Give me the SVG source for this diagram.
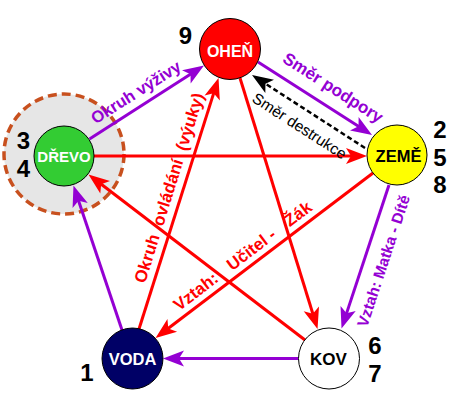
<svg xmlns="http://www.w3.org/2000/svg" width="461" height="408" viewBox="0 0 461 408">
<style>
.node{stroke:#000;stroke-width:1}
.nl{font-family:"Liberation Sans",Arial,sans-serif;font-weight:bold;text-anchor:middle}
.num{font-family:"Liberation Sans",Arial,sans-serif;font-weight:bold;font-size:24px;text-anchor:middle;fill:#000}
.lab{font-family:"Liberation Sans",Arial,sans-serif;font-weight:bold}
.red{stroke:#FF0000;stroke-width:3;fill:none;marker-end:url(#ar)}
.pur{stroke:#9400D3;stroke-width:3;fill:none;marker-end:url(#ap)}
.blk{stroke:#000;stroke-width:2.5;fill:none;stroke-dasharray:5,3;marker-end:url(#ab)}
</style>
<defs>
<marker id="ar" markerUnits="userSpaceOnUse" orient="auto" markerWidth="40" markerHeight="40" refX="0" refY="0" viewBox="-20 -20 40 40" overflow="visible"><path d="M12,0 L-9,-8 L-4,0 L-9,8 Z" fill="#FF0000"/></marker>
<marker id="ap" markerUnits="userSpaceOnUse" orient="auto" markerWidth="40" markerHeight="40" refX="0" refY="0" viewBox="-20 -20 40 40" overflow="visible"><path d="M12,0 L-9,-8 L-4,0 L-9,8 Z" fill="#9400D3"/></marker>
<marker id="ab" markerUnits="userSpaceOnUse" orient="auto" markerWidth="40" markerHeight="40" refX="0" refY="0" viewBox="-20 -20 40 40" overflow="visible"><path d="M12,0 L-9,-8 L-4,0 L-9,8 Z" fill="#000"/></marker>
</defs>
<rect width="461" height="408" fill="#fff"/>
<circle id="drevo-halo" cx="64" cy="154" r="60" fill="#E6E6E6" stroke="#C8501E" stroke-width="3.5" stroke-dasharray="9,5"/>
<g id="connectors">
<path class="pur" d="M89.5,139 L193.9,72"/>
<path class="pur" d="M258,62 L361.9,128.5"/>
<path class="blk" d="M365,148 L262.1,81.5"/>
<path class="pur" d="M389,185 L345.3,317.1"/>
<path class="pur" d="M298.5,358.5 L175,358.5"/>
<path class="pur" d="M122,330 L77.3,196.9"/>
<path class="red" d="M94,156 L355,156"/>
<path class="red" d="M373,173 L165.1,330.8"/>
<path class="red" d="M139,329 L214.9,89.4"/>
<path class="red" d="M240,78 L314,317.5"/>
<path class="red" d="M305,340 L98,181.8"/>
</g>
<g id="ohen"><circle class="node" cx="230" cy="49" r="30.5" fill="#FF0000"/><text class="nl" x="230" y="57" font-size="16" fill="#fff">OHEŇ</text><text class="num" x="185.5" y="44">9</text></g>
<g id="drevo"><circle class="node" cx="64" cy="156" r="30" fill="#33CC33"/><text class="nl" x="64" y="161.5" font-size="15" fill="#fff">DŘEVO</text><text class="num" x="23.5" y="149">3</text><text class="num" x="23.5" y="177">4</text></g>
<g id="zeme"><circle class="node" cx="397" cy="155" r="30" fill="#FFFF00"/><text class="nl" x="398.5" y="161.5" font-size="16.5" fill="#000">ZEMĚ</text><text class="num" x="440" y="138">2</text><text class="num" x="440" y="166">5</text><text class="num" x="440" y="193">8</text></g>
<g id="voda"><circle class="node" cx="132.5" cy="358.5" r="30.5" fill="#000066"/><text class="nl" x="132.5" y="365" font-size="16.5" fill="#fff">VODA</text><text class="num" x="87" y="381">1</text></g>
<g id="kov"><circle class="node" cx="329" cy="358.5" r="30.5" fill="#FFFFFF"/><text class="nl" x="328.5" y="365" font-size="17" fill="#000">KOV</text><text class="num" x="375" y="354">6</text><text class="num" x="375" y="382">7</text></g>
<g id="labels">
<text class="lab" font-size="16.5" fill="#9400D3" transform="translate(95.5,124.5) rotate(-32.3)">Okruh výživy</text>
<text class="lab" font-size="17" fill="#9400D3" transform="translate(281.5,61.5) rotate(32.6)">Směr podpory</text>
<text font-family="Liberation Sans,Arial,sans-serif" font-size="15.5" fill="#000" transform="translate(251,101) rotate(32.9)">Směr destrukce</text>
<text class="lab" font-size="15.5" fill="#9400D3" transform="translate(367,328) rotate(-71.7)">Vztah: Matka - Dítě</text>
<text class="lab" font-size="17" fill="#FF0000" transform="translate(145,284) rotate(-72.6)">Okruh <tspan dx="5">ovládání</tspan> <tspan dx="5">(výuky)</tspan></text>
<text class="lab" font-size="17" fill="#FF0000" transform="translate(179,311.5) rotate(-37.2)">Vztah: <tspan dx="11">Učitel -</tspan> <tspan dx="11">Žák</tspan></text>
</g>
</svg>
